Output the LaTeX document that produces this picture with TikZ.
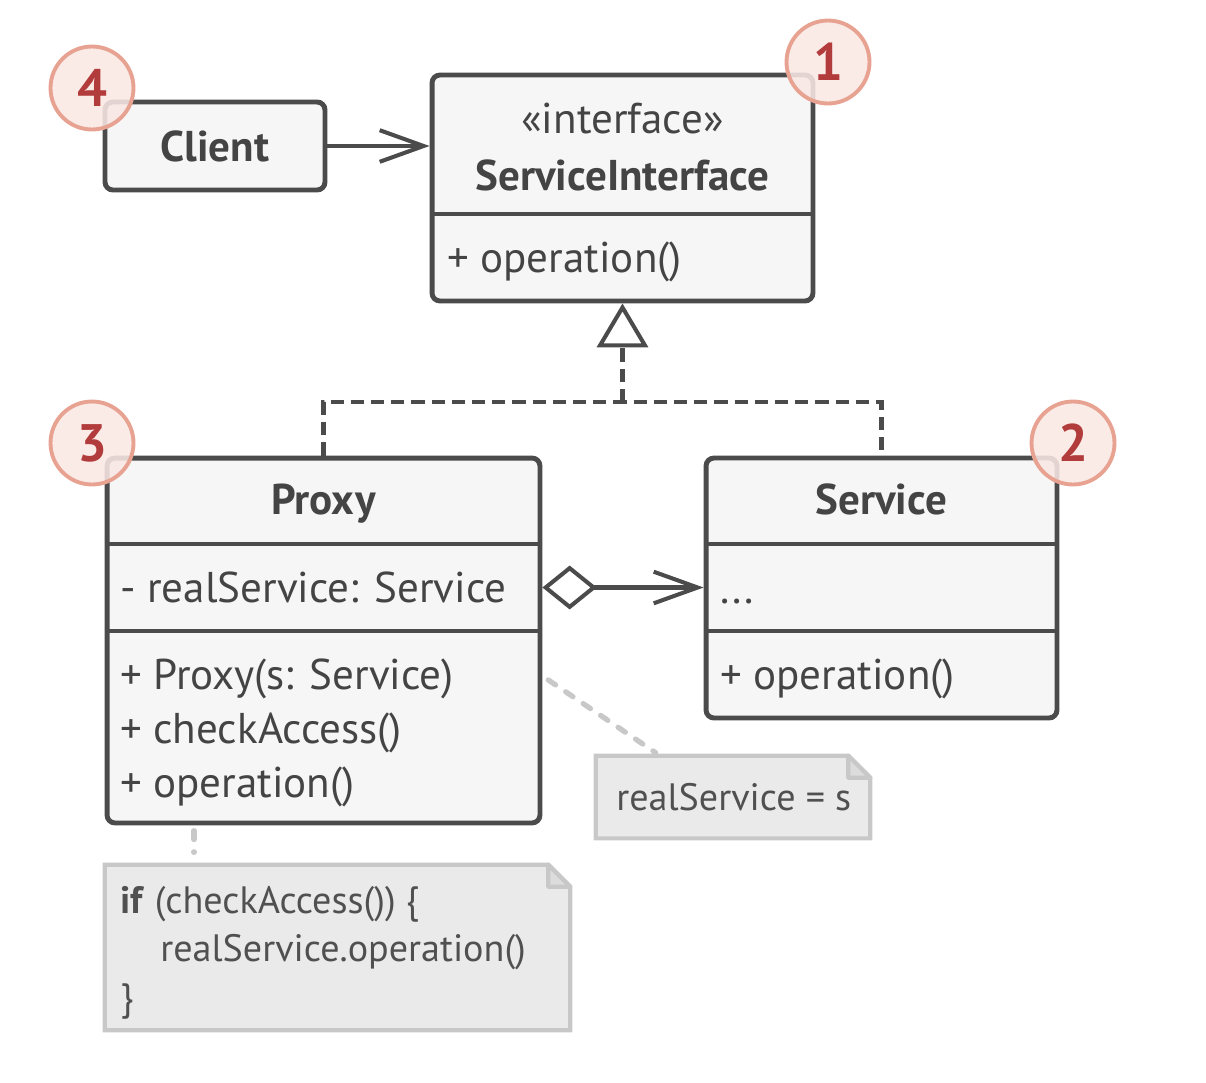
\documentclass[tikz,border=0pt]{standalone}
\usepackage{fontspec}
\setmainfont{PT Sans}
\usetikzlibrary{arrows.meta,calc}
\definecolor{ink}{HTML}{4B4B4B}
\definecolor{txtc}{HTML}{444444}
\definecolor{boxfill}{HTML}{F6F6F6}
\definecolor{badgefill}{HTML}{F9E8E4}
\definecolor{badgeline}{HTML}{E8A291}
\definecolor{badgetxt}{HTML}{B23B3B}
\definecolor{notefill}{HTML}{EAEAEA}
\definecolor{noteline}{HTML}{C8C8C8}
\definecolor{notefoldc}{HTML}{DCDCDC}
\definecolor{notetxt}{HTML}{505050}
\tikzset{openbarb/.tip={Straight Barb[length=25pt, width=18pt, line width=2.3pt]}}
\begin{document}
\begin{tikzpicture}[x=0.02cm,y=-0.02cm,
  every node/.style={text=txtc, font=\fontsize{24.5}{29}\selectfont, inner sep=0pt},
  classbox/.style={draw=ink, fill=boxfill, line width=2.8pt, rounded corners=4.5pt},
  divider/.style={draw=ink, line width=2.8pt},
  lbl/.style={anchor=base west},
  ttl/.style={anchor=base, font=\fontsize{24.5}{29}\selectfont\bfseries},
  badge/.style={circle, minimum size=1.66cm, draw=badgeline, line width=2.2pt, fill=badgefill, fill opacity=0.88, text opacity=1, text=badgetxt, font=\fontsize{30}{34}\selectfont\bfseries},
  assoc/.style={draw=ink, line width=2.3pt},
  realize/.style={draw=ink, line width=2.3pt, dash pattern=on 7.5pt off 4pt},
  notelink/.style={draw=noteline, line width=3pt, dash pattern=on 5pt off 7pt, line cap=round},
  noteshape/.style={draw=noteline, fill=notefill, line width=2.4pt},
  notefold/.style={draw=noteline, fill=notefoldc, line width=2.4pt, line join=round},
  notetext/.style={anchor=base west, text=notetxt, font=\fontsize{21.7}{26}\selectfont}
]
\useasboundingbox (0,0) rectangle (1206,1082);

% ---------- Client ----------
\node[classbox, minimum width=4.4cm, minimum height=1.76cm, font=\fontsize{24.5}{29}\selectfont\bfseries] (client) at (215,146) {Client};

% ---------- ServiceInterface ----------
\node[classbox, minimum width=7.62cm, minimum height=4.52cm] (iface) at (622.5,188) {};
\coordinate (ifd) at (0,214);
\draw[divider] (iface.west |- ifd) -- (iface.east |- ifd);
\node[anchor=base] (ifst) at (622.5,133) {«interface»};
\node[ttl] (ifname) at (622.5,190) {ServiceInterface};
\node[lbl] (ifop) at (447,272) {+ operation()};

% ---------- Proxy ----------
\node[classbox, minimum width=8.66cm, minimum height=7.30cm] (proxy) at (323.5,640.5) {};
\coordinate (d1) at (0,544);
\coordinate (d2) at (0,631);
\draw[divider] (proxy.west |- d1) -- (proxy.east |- d1);
\draw[divider] (proxy.west |- d2) -- (proxy.east |- d2);
\node[ttl] (pname) at (323.5,514) {Proxy};
\node[lbl] (pattr) at (120,602) {- realService: Service};
\node[lbl] (pm1) at (120,689) {+ Proxy(s: Service)};
\node[lbl] (pm2) at (120,743) {+ checkAccess()};
\node[lbl] (pm3) at (120,797) {+ operation()};

% ---------- Service ----------
\node[classbox, minimum width=7.02cm, minimum height=5.2cm] (service) at (881.5,588) {};
\draw[divider] (service.west |- d1) -- (service.east |- d1);
\draw[divider] (service.west |- d2) -- (service.east |- d2);
\node[ttl] (sname) at (881.5,514) {Service};
\node[lbl] (sattr) at (720,603) {...};
\node[lbl] (sop) at (720,689) {+ operation()};

% ---------- Notes ----------
\node[minimum width=5.48cm, minimum height=1.64cm] (note1) at (733,797) {};
\draw[noteshape] (note1.north west) -- ($(note1.north east)+(-22,0)$) -- ($(note1.north east)+(0,22)$) -- (note1.south east) -- (note1.south west) -- cycle;
\draw[notefold] ($(note1.north east)+(-22,0)$) -- ($(note1.north east)+(-22,22)$) -- ($(note1.north east)+(0,22)$) -- cycle;
\node[notetext] (n1t) at (616,810) {realService = s};

\node[minimum width=9.3cm, minimum height=3.3cm] (note2) at (337.5,947.5) {};
\draw[noteshape] (note2.north west) -- ($(note2.north east)+(-22,0)$) -- ($(note2.north east)+(0,22)$) -- (note2.south east) -- (note2.south west) -- cycle;
\draw[notefold] ($(note2.north east)+(-22,0)$) -- ($(note2.north east)+(-22,22)$) -- ($(note2.north east)+(0,22)$) -- cycle;
\node[notetext] (n2a) at (120,913) {\textbf{if} (checkAccess()) \{};
\node[notetext] (n2b) at (160,961) {realService.operation()};
\node[notetext] (n2c) at (120,1010) {\}};

% ---------- Connectors ----------
\draw[assoc, -{openbarb}] (client.east) -- (client.east -| iface.west);

\coordinate (j) at (622.5,402);
\draw[realize] (proxy.north) |- (j) -| (service.north);
\draw[realize, -{Triangle[open, length=25pt, width=29pt, line width=2.3pt]}] (j) -- (iface.south);

\coordinate (attr) at (0,587.5);
\draw[assoc, {Diamond[open, length=31pt, width=25pt, line width=2.3pt]}-{openbarb}] (proxy.east |- attr) -- (service.west |- attr);

\coordinate (l1a) at (0,676);
\coordinate (l1b) at (660,0);
\draw[notelink, shorten <=4pt, shorten >=3pt] (proxy.east |- l1a) -- (note1.north -| l1b);
\coordinate (l2) at (194,0);
\draw[notelink, shorten <=3pt, shorten >=7pt] (proxy.south -| l2) -- (note2.north -| l2);

% ---------- Badges ----------
\node[badge] (b1) at (828,62) {1};
\node[badge] (b2) at (1073,443) {2};
\node[badge] (b3) at (92,443) {3};
\node[badge] (b4) at (92,88) {4};
\end{tikzpicture}
\end{document}
